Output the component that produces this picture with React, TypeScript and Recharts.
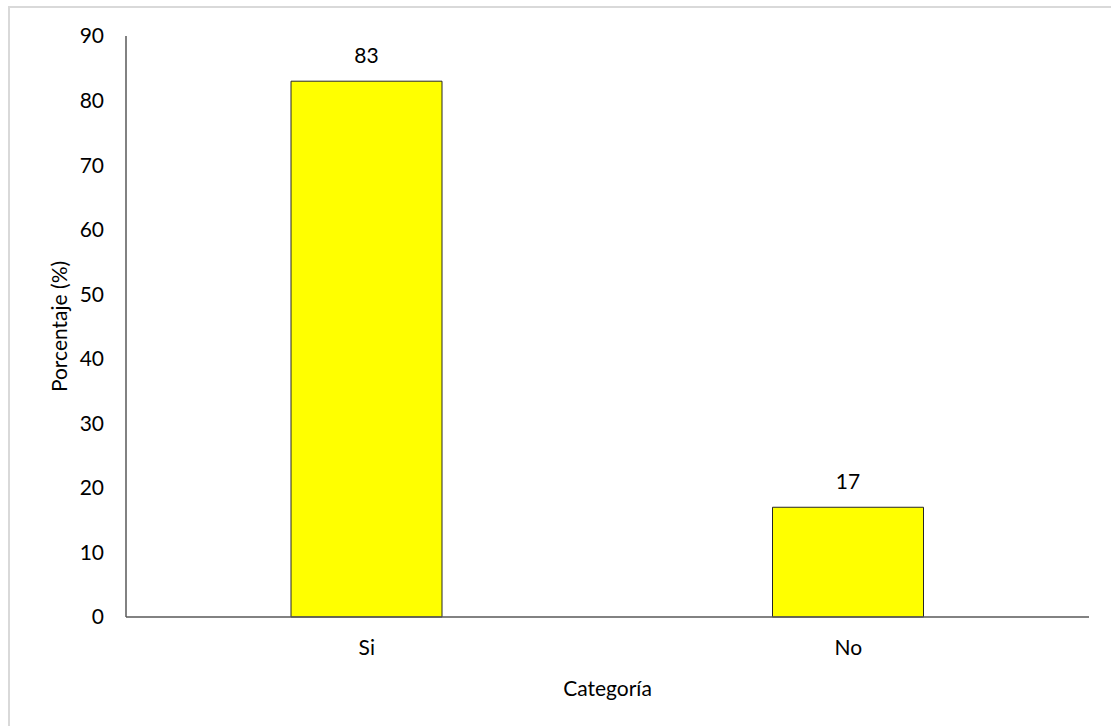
import { BarChart, Bar, XAxis, YAxis, LabelList, Label } from "recharts";

const categories = ["Si", "No"];
const percentages = [83, 17];
const yTicks = [0, 10, 20, 30, 40, 50, 60, 70, 80, 90];

const data = categories.map((name, i) => ({ name, value: percentages[i] }));

const FONT = "Lato, 'Open Sans', sans-serif";
const FS = 21;
const TEXT = "#000000";
const AXIS = "#595959";

export default function App() {
  return (
    <div
      style={{
        position: "fixed",
        left: 0,
        top: 0,
        width: 1111,
        height: 726,
        overflow: "hidden",
        background: "#fff",
        fontFamily: FONT,
      }}
    >
      <div
        style={{
          position: "absolute",
          left: 8,
          top: 6,
          width: 1200,
          height: 800,
          border: "2px solid #d9d9d9",
        }}
      />
      <div style={{ position: "absolute", left: 0, top: 0 }}>
        <BarChart
          width={1111}
          height={726}
          data={data}
          margin={{ top: 36, right: 22, bottom: 49, left: 66 }}
        >
          <XAxis
            dataKey="name"
            height={60}
            stroke={AXIS}
            strokeWidth={1.5}
            tickLine={false}
            tickSize={0}
            tickMargin={23}
            tick={{ fill: TEXT, fontSize: FS, fontFamily: FONT }}
          >
            <Label
              content={() => (
                <text
                  x={607.5}
                  y={687}
                  textAnchor="middle"
                  dominantBaseline="central"
                  fill={TEXT}
                  fontSize={FS}
                  fontFamily={FONT}
                >
                  Categoría
                </text>
              )}
            />
          </XAxis>
          <YAxis
            width={60}
            domain={[0, 90]}
            ticks={yTicks}
            interval={0}
            stroke={AXIS}
            strokeWidth={1.5}
            tickLine={false}
            tickSize={0}
            tickMargin={22}
            tick={{ fill: TEXT, fontSize: FS, fontFamily: FONT }}
          >
            <Label
              content={() => (
                <text
                  x={58}
                  y={326.5}
                  transform="rotate(-90 58 326.5)"
                  textAnchor="middle"
                  dominantBaseline="central"
                  fill={TEXT}
                  fontSize={FS}
                  fontFamily={FONT}
                >
                  Porcentaje (%)
                </text>
              )}
            />
          </YAxis>
          <Bar
            dataKey="value"
            fill="#ffff00"
            stroke="#262626"
            strokeWidth={1}
            barSize={151}
            isAnimationActive={false}
          >
            <LabelList
              dataKey="value"
              position="top"
              offset={18}
              fill={TEXT}
              fontSize={FS}
              fontFamily={FONT}
            />
          </Bar>
        </BarChart>
      </div>
    </div>
  );
}
